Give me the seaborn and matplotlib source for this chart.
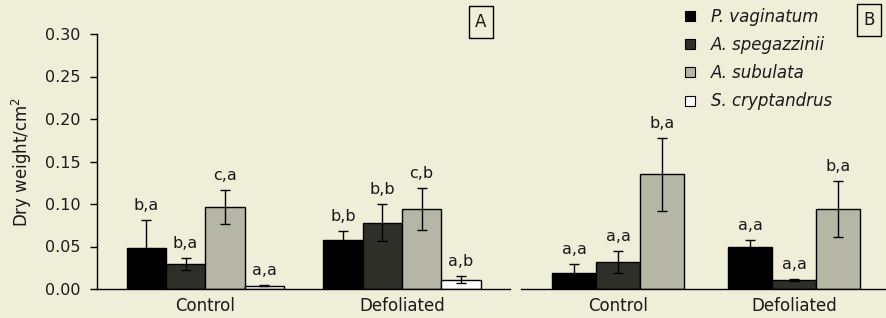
import numpy as np
import pandas as pd
import matplotlib
matplotlib.use('Agg')
import matplotlib.pyplot as plt
from matplotlib.lines import Line2D
import seaborn as sns

# data
treatments = ['Control', 'Defoliated']
species = ['P. vaginatum', 'A. spegazzinii', 'A. subulata', 'S. cryptandrus']
species_b = ['P. vaginatum', 'A. spegazzinii', 'A. subulata']
colors = ['#000000', '#2f2f2a', '#b6b6a6', '#ffffff']

# panel A (order: species)
a_control = [0.048, 0.029, 0.096, 0.004]
a_defol = [0.058, 0.078, 0.094, 0.011]
a_control_err = [0.033, 0.007, 0.020, 0.001]
a_defol_err = [0.010, 0.022, 0.025, 0.004]
a_control_txt = ['b,a', 'b,a', 'c,a', 'a,a']
a_defol_txt = ['b,b', 'b,b', 'c,b', 'a,b']

# panel B
b_control = [0.019, 0.032, 0.135]
b_defol = [0.050, 0.011, 0.094]
b_control_err = [0.010, 0.013, 0.043]
b_defol_err = [0.008, 0.001, 0.033]
b_control_txt = ['a,a', 'a,a', 'b,a']
b_defol_txt = ['a,a', 'a,a', 'b,a']

yticks = [0.0, 0.05, 0.10, 0.15, 0.20, 0.25, 0.30]

bg = '#efeed8'
txt = '#1a1a1a'
plt.rcParams['font.family'] = ['DejaVu Sans']


def make_df(sp, ctrl, defo, ctrl_err, defo_err, ctrl_txt, defo_txt):
    rows = []
    for i, s in enumerate(sp):
        rows.append([treatments[0], s, ctrl[i], ctrl_err[i], ctrl_txt[i]])
        rows.append([treatments[1], s, defo[i], defo_err[i], defo_txt[i]])
    return pd.DataFrame(rows, columns=['treatment', 'species', 'dw', 'se', 'lab'])


def draw(ax, df, sp, width):
    pal = dict(zip(species, colors))
    sns.barplot(data=df, x='treatment', y='dw', hue='species', order=treatments,
                hue_order=sp, palette=pal, width=width, errorbar=None,
                edgecolor='black', linewidth=1.0, saturation=1, legend=False, ax=ax)
    # error bars and letters on top of each bar
    for cont, s in zip(ax.containers, sp):
        for bar, t in zip(cont, treatments):
            r = df[(df.species == s) & (df.treatment == t)].iloc[0]
            xc = bar.get_x() + bar.get_width() / 2
            ax.errorbar(xc, r.dw, yerr=r.se, fmt='none', ecolor='black',
                        elinewidth=1.0, capsize=3.5, capthick=1.0)
            ax.annotate(r.lab, (xc, r.dw + r.se), xytext=(0, 5),
                        textcoords='offset points', ha='center', va='bottom',
                        fontsize=11.5, color=txt)
    ax.set_facecolor(bg)
    ax.set_ylim(0, 0.30)
    ax.set_xlabel('')
    ax.set_ylabel('')
    ax.tick_params(axis='x', length=0, pad=6, labelsize=12, labelcolor=txt)
    for sp_name in ['top', 'right']:
        ax.spines[sp_name].set_visible(False)


fig = plt.figure(figsize=(8.86, 3.18), dpi=100)
fig.patch.set_facecolor(bg)

axA = fig.add_axes([97 / 886, 29 / 318, 413 / 886, 255 / 318])
dfA = make_df(species, a_control, a_defol, a_control_err, a_defol_err,
              a_control_txt, a_defol_txt)
draw(axA, dfA, species, 0.8)
axA.set_xlim(-0.55, 1.55)
axA.set_yticks(yticks)
axA.set_yticklabels(['%.2f' % v for v in yticks])
axA.tick_params(axis='y', direction='out', length=5, width=1, labelsize=11.5,
                labelcolor=txt, pad=7)
axA.set_ylabel('Dry weight/cm$^2$', fontsize=12, color=txt, labelpad=8)
axA.spines['left'].set_linewidth(1.0)
axA.spines['bottom'].set_linewidth(1.0)

axB = fig.add_axes([521 / 886, 29 / 318, 365 / 886, 255 / 318])
dfB = make_df(species_b, b_control, b_defol, b_control_err, b_defol_err,
              b_control_txt, b_defol_txt)
draw(axB, dfB, species_b, 0.75)
axB.set_xlim(-0.551, 1.523)
axB.spines['left'].set_visible(False)
axB.set_yticks([])
axB.spines['bottom'].set_linewidth(1.0)

# panel letters
fig.text(481 / 886, 1 - 22 / 318, 'A', ha='center', va='center', fontsize=12,
         color=txt, bbox=dict(boxstyle='square,pad=0.4', fc='none', ec='black', lw=1))
fig.text(869 / 886, 1 - 20 / 318, 'B', ha='center', va='center', fontsize=12,
         color=txt, bbox=dict(boxstyle='square,pad=0.4', fc='none', ec='black', lw=1))

# legend
handles = [Line2D([], [], marker='s', linestyle='none', markersize=6.5,
                  markerfacecolor=c, markeredgecolor='black', markeredgewidth=0.8)
           for c in colors]
leg = fig.legend(handles, species, loc='upper left', bbox_to_anchor=(674 / 886, 1.0),
                 frameon=False, handlelength=1.0, handletextpad=0.75,
                 labelspacing=0.62, borderaxespad=0.05,
                 prop={'style': 'italic', 'size': 12})
for t in leg.get_texts():
    t.set_color(txt)

fig.savefig('out.png', dpi=100, facecolor=bg)
